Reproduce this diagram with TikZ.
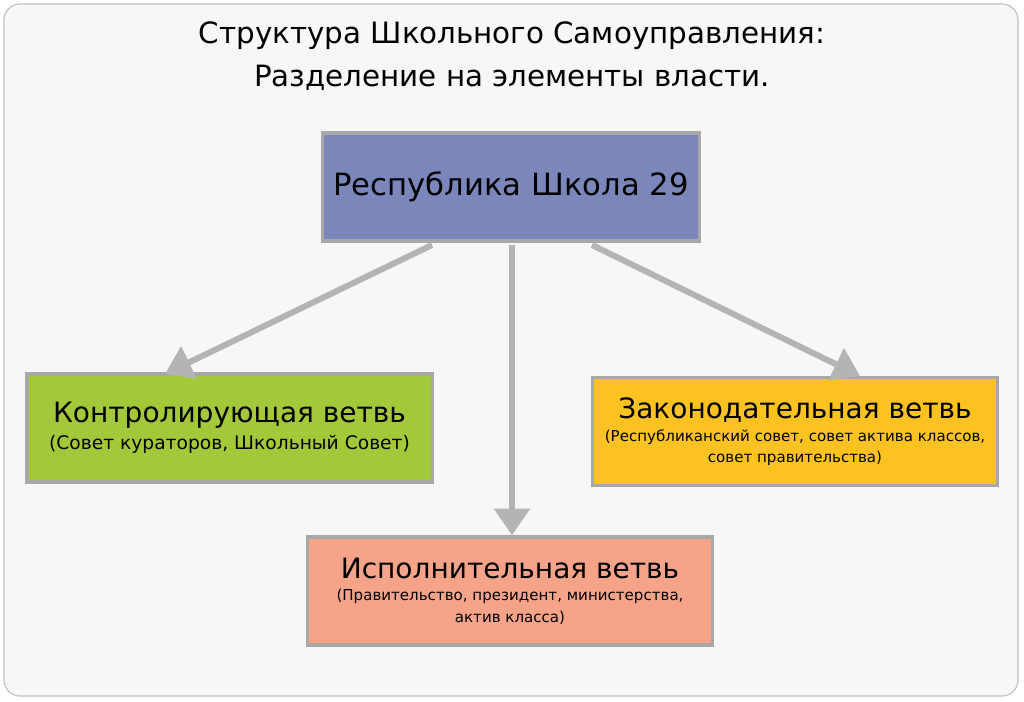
\documentclass[tikz,border=0pt]{standalone}
\usepackage{fontspec}
\setmainfont{DejaVu Sans}
\usetikzlibrary{arrows.meta}
\definecolor{bord}{HTML}{A8A8A8}
\definecolor{arr}{HTML}{B4B4B4}
\definecolor{cTop}{HTML}{7B86BA}
\definecolor{cLeft}{HTML}{A3C93A}
\definecolor{cRight}{HTML}{FBC222}
\definecolor{cBot}{HTML}{F5A48A}
\tikzset{
  boxstyle/.style={draw=bord,line width=2.5pt,minimum width=#1,minimum height=81pt,align=center,inner sep=0pt},
  conn/.style={draw=arr,line width=4.5pt,-{Triangle[length=20pt,width=26pt]}}
}
\begin{document}
\begin{tikzpicture}[x=0.75pt,y=-0.75pt]
\useasboundingbox (0,0) rectangle (1024,701);
\fill[white] (0,0) rectangle (1024,701);
\draw[draw=black!25,fill=black!3,line width=0.8pt,rounded corners=12pt] (4,4) rectangle (1018,696);
\node (t1) at (512,36) {\fontsize{22}{27}\selectfont Структура Школьного Самоуправления:};
\node (t2) at (512,78) {\fontsize{22}{27}\selectfont Разделение на элементы власти.};
\node[boxstyle=283pt,fill=cTop] (top) at (511,187) {\fontsize{23}{28}\selectfont Республика Школа 29};
\node[boxstyle=304pt,fill=cLeft] (left) at (229.5,428) {\fontsize{21}{26}\selectfont Контролирующая ветвь\\[4pt]\fontsize{14}{18}\selectfont (Совет кураторов, Школьный Совет)};
\node[boxstyle=304pt,fill=cRight] (right) at (795,431.5) {\fontsize{21}{26}\selectfont Законодательная ветвь\\[5pt]\fontsize{11.3}{17}\selectfont (Республиканский совет, совет актива классов,\\[4pt]\fontsize{11.3}{17}\selectfont совет правительства)};
\node[boxstyle=304pt,fill=cBot] (bot) at (510,591) {\fontsize{21}{26}\selectfont Исполнительная ветвь\\[5pt]\fontsize{11.3}{17}\selectfont (Правительство, президент, министерства,\\[4pt]\fontsize{11.3}{17}\selectfont актив класса)};
\coordinate (a1) at (432,245);
\coordinate (a2) at (512,245);
\coordinate (a3) at (592,245);
\draw[conn] (a1) -- (165,374);
\draw[conn] (a2) -- (bot.north -| a2);
\draw[conn] (a3) -- (860,376);
\end{tikzpicture}
\end{document}
